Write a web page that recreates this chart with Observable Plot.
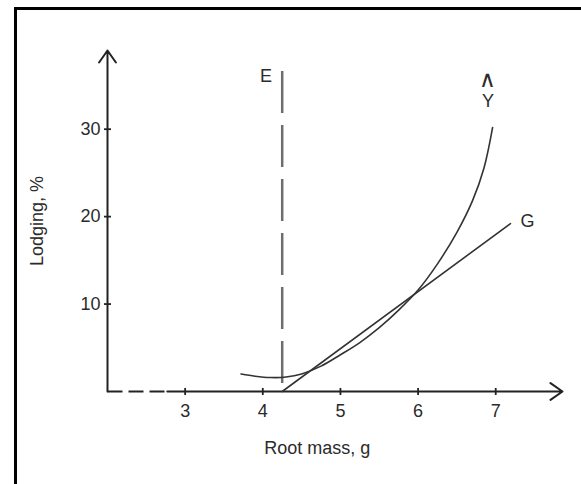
<!DOCTYPE html>
<html><head><meta charset="utf-8">
<script src="https://cdn.jsdelivr.net/npm/d3@7"></script>
<script src="https://cdn.jsdelivr.net/npm/@observablehq/plot@0.6"></script>
<style>
html,body{margin:0;padding:0;background:#fff;}
#wrap{position:relative;width:581px;height:484px;overflow:hidden;}
#frame{position:absolute;left:14px;top:7px;right:-10px;bottom:-10px;border-left:3px solid #000;border-top:3px solid #000;pointer-events:none;}
#chart{position:absolute;left:0;top:0;}
</style></head><body>
<div id="wrap"><div id="chart"></div><div id="frame"></div></div>
<script>
// ---- data ----
const xTicks = [3, 4, 5, 6, 7];
const yTicks = [10, 20, 30];
// Y-hat curve (root mass g, lodging %)
const curveMass    = [3.72, 3.9, 4.1, 4.3, 4.5, 4.75, 5.0, 5.25, 5.5, 5.75, 6.0, 6.25, 6.5, 6.7, 6.85, 6.96];
const curveLodging = [2.0, 1.75, 1.6, 1.65, 2.0, 2.9, 4.2, 5.6, 7.3, 9.3, 11.6, 14.6, 18.2, 21.8, 25.6, 30.2];
// G straight line
const gMass    = [4.25, 7.19];
const gLodging = [0, 19.2];
// E vertical dashed line
const eMass = 4.25;
const eTop = 36.6;
// axis extents
const xAxisStart = 2, xDashEnd = 2.77, xAxisEnd = 7.86, yAxisTop = 39;
// annotation labels
const labelText = ["E", "G", "∧", "Y"];
const labelMass = [4.04, 7.41, 6.90, 6.90];
const labelLodging = [36.0, 19.5, 35.7, 33.2];
const labelSize = [18, 18, 23, 18];

const curve = curveMass.map((m, i) => ({m, l: curveLodging[i]}));
const gLine = gMass.map((m, i) => ({m, l: gLodging[i]}));
const labels = labelText.map((t, i) => ({t, m: labelMass[i], l: labelLodging[i], s: labelSize[i]}));

const vTick = {draw(ctx, size) { const r = Math.sqrt(size / Math.PI); ctx.moveTo(0, -r); ctx.lineTo(0, r); }};
const hTick = {draw(ctx, size) { const r = Math.sqrt(size / Math.PI); ctx.moveTo(-r, 0); ctx.lineTo(r, 0); }};

const ink = "#222";
const txt = "#2b2b2b";
const font = "Liberation Sans, Arial, Helvetica, sans-serif";
const fs = 18;

const plot = Plot.plot({
  width: 581, height: 484,
  marginTop: 50, marginBottom: 93, marginLeft: 107, marginRight: 19,
  x: {domain: [xAxisStart, xAxisEnd], axis: null},
  y: {domain: [0, yAxisTop], axis: null},
  style: {fontFamily: font, fontSize: "18px", color: txt, background: "transparent"},
  marks: [
    // axes
    Plot.arrow([{x1: xAxisStart, y1: 0, x2: xAxisStart, y2: yAxisTop}], {x1: "x1", y1: "y1", x2: "x2", y2: "y2", stroke: ink, strokeWidth: 2, headLength: 11, headAngle: 70}),
    Plot.link([{x1: xAxisStart, x2: xDashEnd}], {x1: "x1", x2: "x2", y1: 0, y2: 0, stroke: ink, strokeWidth: 2, strokeDasharray: "15,6"}),
    Plot.arrow([{x1: xDashEnd, y1: 0, x2: xAxisEnd, y2: 0}], {x1: "x1", y1: "y1", x2: "x2", y2: "y2", stroke: ink, strokeWidth: 2, headLength: 11, headAngle: 70}),
    Plot.dot(xTicks, {x: d => d, y: 0, symbol: vTick, r: 3.5, stroke: ink, fill: "none", strokeWidth: 1.8}),
    Plot.dot(yTicks, {x: xAxisStart, y: d => d, symbol: hTick, r: 3.5, stroke: ink, fill: "none", strokeWidth: 1.8}),
    Plot.text(xTicks, {x: d => d, y: 0, dy: 20, text: d => String(d), fill: txt, fontSize: fs}),
    Plot.text(yTicks, {x: xAxisStart, y: d => d, dx: -7, textAnchor: "end", text: d => String(d), fill: txt, fontSize: fs}),
    Plot.text(["Root mass, g"], {x: 4.70, y: 0, dy: 57, text: d => d, fill: txt, fontSize: fs}),
    Plot.text(["Lodging, %"], {x: xAxisStart, y: 19.5, dx: -70, rotate: -90, text: d => d, fill: txt, fontSize: fs}),
    // E dashed
    Plot.ruleX([eMass], {x: d => d, y1: eTop, y2: 0, stroke: "#6e6e6e", strokeWidth: 2.5, strokeDasharray: "42,12"}),
    // G line
    Plot.line(gLine, {x: "m", y: "l", stroke: "#333", strokeWidth: 1.6}),
    // Y-hat curve
    Plot.line(curve, {x: "m", y: "l", stroke: "#333", strokeWidth: 1.6, curve: "catmull-rom"}),
    // labels
    Plot.text(labels, {x: "m", y: "l", text: "t", fill: txt, fontSize: "s"})
  ]
});
document.getElementById("chart").appendChild(plot);
</script>
</body></html>
